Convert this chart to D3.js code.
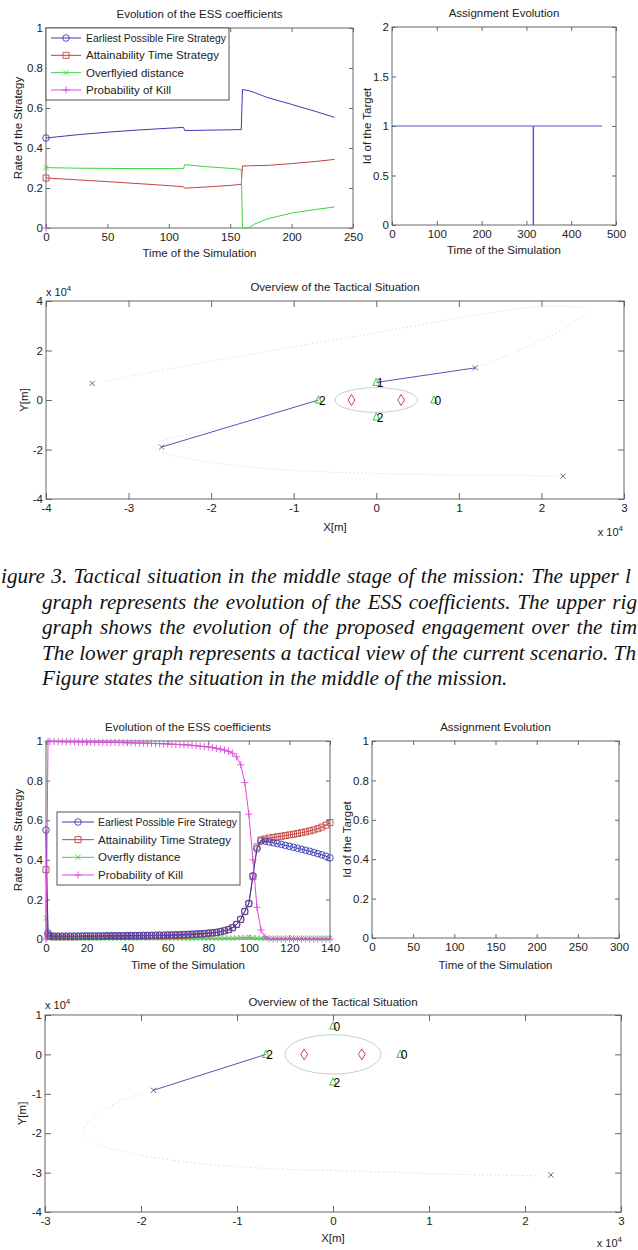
<!DOCTYPE html>
<html lang="en">
<head>
<meta charset="UTF-8">
<title>ESS coefficients and tactical situation</title>
<style>
body { margin: 0; background: #fff; }
svg { display: block; }
text { font-family: "Liberation Sans", Arial, Helvetica, sans-serif; fill: #222; font-size: 11.5px; }
.tick text { font-size: 11.5px; fill: #222; }
.tick line { stroke: #666; }
.frame { fill: none; stroke: #666; stroke-width: 1; }
.caption { font-family: "Liberation Serif", "Times New Roman", serif; font-style: italic; font-size: 21.2px; fill: #111; }
</style>
</head>
<body>
<svg id="fig" width="638" height="1250"></svg>
<script src="https://cdnjs.cloudflare.com/ajax/libs/d3/7.8.5/d3.min.js"></script>
<script>
// ---------- upper figure: ESS coefficients, middle of mission
var essTime     = [0, 25, 50, 75, 100, 112, 113, 130, 150, 159, 160, 165, 170, 180, 200, 220, 235];
var essEarliest = [0.450, 0.466, 0.479, 0.490, 0.499, 0.503, 0.487, 0.489, 0.491, 0.492, 0.692, 0.687, 0.677, 0.653, 0.618, 0.582, 0.553];
var essAttain   = [0.250, 0.241, 0.232, 0.222, 0.212, 0.206, 0.199, 0.205, 0.213, 0.218, 0.310, 0.311, 0.312, 0.313, 0.322, 0.333, 0.343];
var essOverfly  = [0.302, 0.299, 0.298, 0.297, 0.297, 0.297, 0.317, 0.307, 0.298, 0.293, 0.000, 0.000, 0.020, 0.045, 0.075, 0.093, 0.105];
var essKillTime = [0];
var essKill     = [0];
var essLegend   = ["Earliest Possible Fire Strategy", "Attainability Time Strategy", "Overflyied distance", "Probability of Kill"];
var essXTicks   = [0, 50, 100, 150, 200, 250];
var rateTicks   = [0, 0.2, 0.4, 0.6, 0.8, 1];

// assignment evolution
var assignTime   = [0, 315, 315, 316, 316, 469];
var assignTarget = [1, 1, 0, 0, 1, 1];
var assignXTicks = [0, 100, 200, 300, 400, 500];
var assignYTicks = [0, 0.5, 1, 1.5, 2];

// tactical situation, middle of mission (metres)
var midTrackA = [[-33000, 7500], [-28000, 10700], [-21400, 14800], [-15000, 18600], [-8000, 22700], [0, 27200],
  [7500, 31600], [13000, 34800], [19600, 37700], [23000, 37800], [25200, 36800], [25400, 35000], [24500, 33000],
  [22800, 29000], [19600, 23600], [15500, 17500], [12600, 13600]];
var midTrackB = [[22000, -30600], [15000, -30400], [7500, -30200], [0, -29700], [-8000, -28800], [-15000, -27200],
  [-21400, -24500], [-24500, -22500], [-26200, -20900], [-27000, -19500], [-26600, -17500], [-24500, -15200],
  [-21400, -13000], [-18500, -11300]];
var midPlanes  = [[-34400, 6700], [12000, 13000], [-26000, -19000], [22600, -30800]];
var midLinks   = [[[0, 7100], [12000, 13000]], [[-7000, 0], [-26000, -19000]]];
var midTgtX    = [0, -7000, 7000, 0];
var midTgtY    = [7100, 0, 0, -6900];
var midTgtId   = ["1", "2", "0", "2"];
var midXTicks  = [-40000, -30000, -20000, -10000, 0, 10000, 20000, 30000];
var midYTicks  = [-40000, -20000, 0, 20000, 40000];

// defended sites and zone (both tactical views)
var sites      = [[-3000, 0], [3000, 0]];
var zoneRadius = 5000;

// caption, as much of each justified line as the page shows
var captionLines = [
  "igure 3. Tactical situation in the middle stage of the mission: The upper l",
  "graph represents the evolution of the ESS coefficients. The upper rig",
  "graph shows the evolution of the proposed engagement over the tim",
  "The lower graph represents a tactical view of the current scenario. Th",
  "Figure states the situation in the middle of the mission."
];
var captionStart = [1, 42, 42, 42, 42];
var captionEnd   = [631, 637, 637, 636, null];

// ---------- lower figure
var lowTime = [0, 1, 2, 4, 6, 8, 10, 12, 14, 16, 18, 20, 22, 24, 26, 28, 30, 32, 34, 36, 38, 40, 42, 44, 46, 48,
  50, 52, 54, 56, 58, 60, 62, 64, 66, 68, 70, 72, 74, 76, 78, 80, 82, 84, 86, 88, 90, 92, 94, 96, 98, 100,
  102, 104, 106, 108, 110, 112, 114, 116, 118, 120, 122, 124, 126, 128, 130, 132, 134, 136, 138, 140];
var lowEarliest = [0.550, 0.030, 0.016, 0.015, 0.015, 0.015, 0.015, 0.015, 0.015, 0.015, 0.016, 0.016, 0.016,
  0.016, 0.016, 0.016, 0.017, 0.017, 0.017, 0.017, 0.017, 0.018, 0.018, 0.018, 0.018, 0.019, 0.019, 0.019,
  0.020, 0.020, 0.020, 0.021, 0.021, 0.022, 0.022, 0.023, 0.024, 0.025, 0.026, 0.027, 0.028, 0.030, 0.032,
  0.034, 0.038, 0.042, 0.048, 0.058, 0.074, 0.100, 0.140, 0.180, 0.320, 0.455, 0.495, 0.494, 0.490, 0.486,
  0.482, 0.478, 0.473, 0.468, 0.463, 0.458, 0.453, 0.448, 0.443, 0.437, 0.431, 0.425, 0.418, 0.410];
var lowAttain = [0.350, 0.020, 0.012, 0.011, 0.011, 0.011, 0.011, 0.011, 0.011, 0.012, 0.012, 0.012, 0.012,
  0.012, 0.012, 0.013, 0.013, 0.013, 0.013, 0.013, 0.014, 0.014, 0.014, 0.014, 0.015, 0.015, 0.015, 0.016,
  0.016, 0.016, 0.017, 0.017, 0.018, 0.018, 0.019, 0.020, 0.021, 0.022, 0.023, 0.024, 0.026, 0.028, 0.030,
  0.032, 0.036, 0.041, 0.047, 0.057, 0.073, 0.098, 0.138, 0.178, 0.315, 0.465, 0.500, 0.505, 0.510, 0.513,
  0.516, 0.519, 0.522, 0.526, 0.529, 0.533, 0.537, 0.541, 0.546, 0.551, 0.557, 0.565, 0.575, 0.588];
var lowOverfly = [0.105, 0.006, 0.005, 0.005, 0.005, 0.005, 0.005, 0.005, 0.005, 0.005, 0.005, 0.005, 0.005,
  0.005, 0.005, 0.005, 0.005, 0.005, 0.005, 0.005, 0.005, 0.005, 0.005, 0.005, 0.005, 0.005, 0.005, 0.005,
  0.005, 0.005, 0.005, 0.005, 0.005, 0.005, 0.005, 0.005, 0.005, 0.005, 0.005, 0.005, 0.005, 0.005, 0.005,
  0.005, 0.005, 0.005, 0.005, 0.005, 0.006, 0.007, 0.008, 0.008, 0.007, 0.005, 0.004, 0.003, 0.003, 0.003,
  0.003, 0.003, 0.003, 0.003, 0.003, 0.003, 0.003, 0.003, 0.003, 0.003, 0.003, 0.003, 0.003, 0.003];
var lowKill = [0.000, 0.998, 0.997, 0.997, 0.997, 0.996, 0.996, 0.996, 0.996, 0.995, 0.995, 0.995, 0.995,
  0.994, 0.994, 0.994, 0.993, 0.993, 0.993, 0.992, 0.992, 0.991, 0.991, 0.990, 0.990, 0.989, 0.989, 0.988,
  0.987, 0.987, 0.986, 0.985, 0.984, 0.983, 0.982, 0.981, 0.980, 0.978, 0.976, 0.974, 0.972, 0.970, 0.967,
  0.963, 0.959, 0.954, 0.948, 0.938, 0.920, 0.880, 0.790, 0.630, 0.400, 0.160, 0.045, 0.010, 0.002, 0.000,
  0.000, 0.000, 0.000, 0.000, 0.000, 0.000, 0.000, 0.000, 0.000, 0.000, 0.000, 0.000, 0.000, 0.000];
var lowLegend  = ["Earliest Possible Fire Strategy", "Attainability Time Strategy", "Overfly distance", "Probability of Kill"];
var lowXTicks  = [0, 20, 40, 60, 80, 100, 120, 140];
var emptyXTicks = [0, 50, 100, 150, 200, 250, 300];

// tactical situation, lower figure (metres)
var lowTrack  = [[21500, -30800], [12100, -30400], [3600, -29700], [-7100, -28900], [-15600, -27200],
  [-21900, -24600], [-25100, -22100], [-26000, -19500], [-24900, -15700], [-21900, -11500], [-19500, -9700]];
var lowPlanes = [[-18700, -9100], [22700, -30600]];
var lowLinks  = [[[-7000, 0], [-18700, -9100]]];
var lowTgtX   = [0, -7000, 7000, 0];
var lowTgtY   = [7200, 0, 0, -7000];
var lowTgtId  = ["0", "2", "0", "2"];
var lowTacXTicks = [-30000, -20000, -10000, 0, 10000, 20000, 30000];
var lowTacYTicks = [-40000, -30000, -20000, -10000, 0, 10000];

var COL = { blue: "#3b3bb2", red: "#bf4343", green: "#3fd43f", magenta: "#d94ed9" };
var MARK = {
  circle: "M3.3,0A3.3,3.3 0 1,1 -3.3,0A3.3,3.3 0 1,1 3.3,0Z",
  square: "M-3,-3H3V3H-3Z",
  cross: "M-2.6,-2.6L2.6,2.6M-2.6,2.6L2.6,-2.6",
  plus: "M-3.6,0H3.6M0,-3.6V3.6",
  tri: "M0,-4.2L3.3,3L-3.3,3Z",
  diamond: "M0,-5.5L3.4,0L0,5.5L-3.4,0Z"
};

var svg = d3.select("#fig");

function tidy(g) {
  g.select(".domain").remove();
}

function panel(o) {
  var g = svg.append("g");
  var x = d3.scaleLinear().domain(o.xDomain).range([o.left, o.right]);
  var y = d3.scaleLinear().domain(o.yDomain).range([o.bottom, o.top]);
  var fmt = o.format || function(d) { return String(d); };
  var tl = o.tick;

  g.append("g").attr("transform", "translate(0," + o.bottom + ")")
    .call(d3.axisBottom(x).tickValues(o.xTicks).tickSize(-tl).tickSizeOuter(0).tickPadding(5).tickFormat(fmt)).call(tidy);
  g.append("g").attr("transform", "translate(0," + o.top + ")")
    .call(d3.axisTop(x).tickValues(o.xTicks).tickSize(-tl).tickSizeOuter(0).tickFormat("")).call(tidy);
  g.append("g").attr("transform", "translate(" + o.left + ",0)")
    .call(d3.axisLeft(y).tickValues(o.yTicks).tickSize(-tl).tickSizeOuter(0).tickPadding(3).tickFormat(fmt)).call(tidy);
  g.append("g").attr("transform", "translate(" + o.right + ",0)")
    .call(d3.axisRight(y).tickValues(o.yTicks).tickSize(-tl).tickSizeOuter(0).tickFormat("")).call(tidy);

  g.append("rect").attr("class", "frame")
    .attr("x", o.left).attr("y", o.top).attr("width", o.right - o.left).attr("height", o.bottom - o.top);

  g.append("text").attr("x", (o.left + o.right) / 2).attr("y", o.titleY)
    .attr("text-anchor", "middle").text(o.title);
  g.append("text").attr("x", (o.left + o.right) / 2).attr("y", o.xLabelY)
    .attr("text-anchor", "middle").text(o.xLabel);
  g.append("text").attr("transform", "translate(" + o.yLabelX + "," + (o.top + o.bottom) / 2 + ") rotate(-90)")
    .attr("dy", "0.35em").attr("text-anchor", "middle").text(o.yLabel);

  return { g: g, x: x, y: y, o: o };
}

function series(p, xs, ys, color, mark, allMarks) {
  var pts = xs.map(function(t, i) { return [t, ys[i]]; });
  if (pts.length > 1) {
    p.g.append("path").datum(pts)
      .attr("d", d3.line().x(function(d) { return p.x(d[0]); }).y(function(d) { return p.y(d[1]); }))
      .attr("fill", "none").attr("stroke", color).attr("stroke-width", 1);
  }
  p.g.selectAll(null).data(allMarks ? pts : pts.slice(0, 1)).enter().append("path")
    .attr("d", MARK[mark])
    .attr("transform", function(d) { return "translate(" + p.x(d[0]) + "," + p.y(d[1]) + ")"; })
    .attr("fill", "none").attr("stroke", color).attr("stroke-width", 0.9);
}

function legend(bx, by, bw, bh, labels, lineX0, lineX1, textX) {
  var specs = [[COL.blue, "circle"], [COL.red, "square"], [COL.green, "cross"], [COL.magenta, "plus"]];
  var lg = svg.append("g");
  lg.append("rect").attr("x", bx).attr("y", by).attr("width", bw).attr("height", bh)
    .attr("fill", "#fff").attr("stroke", "#555");
  var step = (bh - 20) / 3;
  var room = bx + bw - textX - 3;
  labels.forEach(function(lab, i) {
    var yy = by + 10 + i * step;
    lg.append("line").attr("x1", lineX0).attr("x2", lineX1).attr("y1", yy).attr("y2", yy)
      .attr("stroke", specs[i][0]).attr("stroke-width", 1);
    lg.append("path").attr("d", MARK[specs[i][1]])
      .attr("transform", "translate(" + (lineX0 + lineX1) / 2 + "," + yy + ")")
      .attr("fill", "none").attr("stroke", specs[i][0]).attr("stroke-width", 0.9);
    var t = lg.append("text").attr("x", textX).attr("y", yy).attr("dy", "0.35em").text(lab);
    if (t.node().getComputedTextLength() > room) {
      t.attr("textLength", room).attr("lengthAdjust", "spacingAndGlyphs");
    }
  });
}

function powerLabel(x, y, anchorEnd) {
  var t = svg.append("text").attr("x", x).attr("y", y);
  if (anchorEnd) t.attr("text-anchor", "end");
  t.append("tspan").style("font-size", "11px").text("x 10");
  t.append("tspan").attr("dy", -5).style("font-size", "8px").text("4");
}

function tactical(p, tracks, planes, links, tx, ty, tid) {
  var smooth = d3.line().curve(d3.curveCatmullRom)
    .x(function(d) { return p.x(d[0]); }).y(function(d) { return p.y(d[1]); });
  var straight = d3.line().x(function(d) { return p.x(d[0]); }).y(function(d) { return p.y(d[1]); });
  tracks.forEach(function(tr) {
    p.g.append("path").datum(tr).attr("d", smooth).attr("fill", "none")
      .attr("stroke", "#cfcfcf").attr("stroke-width", 1).attr("stroke-dasharray", "1,3");
  });
  p.g.append("ellipse").attr("cx", p.x(0)).attr("cy", p.y(0))
    .attr("rx", p.x(zoneRadius) - p.x(0)).attr("ry", p.y(0) - p.y(zoneRadius))
    .attr("fill", "none").attr("stroke", "#cccccc").attr("stroke-width", 1);
  links.forEach(function(l) {
    p.g.append("path").datum(l).attr("d", straight)
      .attr("stroke", "#5555b8").attr("stroke-width", 1).attr("fill", "none");
  });
  p.g.selectAll(null).data(planes).enter().append("path").attr("d", MARK.cross)
    .attr("transform", function(d) { return "translate(" + p.x(d[0]) + "," + p.y(d[1]) + ")"; })
    .attr("fill", "none").attr("stroke", "#444").attr("stroke-width", 0.8);
  p.g.selectAll(null).data(sites).enter().append("path").attr("d", MARK.diamond)
    .attr("transform", function(d) { return "translate(" + p.x(d[0]) + "," + p.y(d[1]) + ")"; })
    .attr("fill", "none").attr("stroke", "#c84646").attr("stroke-width", 1);
  tx.forEach(function(xv, i) {
    p.g.append("path").attr("d", MARK.tri)
      .attr("transform", "translate(" + p.x(xv) + "," + p.y(ty[i]) + ")")
      .attr("fill", "none").attr("stroke", "#3fc43f").attr("stroke-width", 1);
    p.g.append("text").attr("x", p.x(xv) + 0.5).attr("y", p.y(ty[i])).attr("dy", "0.38em")
      .style("font-size", "12px").style("fill", "#000").text(tid[i]);
  });
}

var tenK = function(d) { return String(d / 10000); };

// ---------- upper figure
var p1 = panel({ left: 46, right: 353, top: 28, bottom: 228, xDomain: [0, 250], yDomain: [0, 1],
  xTicks: essXTicks, yTicks: rateTicks, tick: 4, title: "Evolution of the ESS coefficients", titleY: 18,
  xLabel: "Time of the Simulation", xLabelY: 257, yLabel: "Rate of the Strategy", yLabelX: 18 });
series(p1, essTime, essEarliest, COL.blue, "circle", false);
series(p1, essTime, essAttain, COL.red, "square", false);
series(p1, essTime, essOverfly, COL.green, "cross", false);
series(p1, essKillTime, essKill, COL.magenta, "plus", false);
legend(46, 28, 183, 72, essLegend, 51, 81, 86);

var p2 = panel({ left: 392, right: 616, top: 27, bottom: 225, xDomain: [0, 500], yDomain: [0, 2],
  xTicks: assignXTicks, yTicks: assignYTicks, tick: 4, title: "Assignment Evolution", titleY: 17,
  xLabel: "Time of the Simulation", xLabelY: 254, yLabel: "Id of the Target", yLabelX: 367 });
p2.g.append("path").datum(assignTime.map(function(t, i) { return [t, assignTarget[i]]; }))
  .attr("d", d3.line().x(function(d) { return p2.x(d[0]); }).y(function(d) { return p2.y(d[1]); }))
  .attr("fill", "none").attr("stroke", "#5252cc").attr("stroke-width", 1);

var p3 = panel({ left: 46, right: 624, top: 301, bottom: 499, xDomain: [-40000, 30000], yDomain: [-40000, 40000],
  xTicks: midXTicks, yTicks: midYTicks, tick: 6, format: tenK, title: "Overview of the Tactical Situation", titleY: 291,
  xLabel: "X[m]", xLabelY: 531, yLabel: "Y[m]", yLabelX: 24 });
tactical(p3, [midTrackA, midTrackB], midPlanes, midLinks, midTgtX, midTgtY, midTgtId);
powerLabel(46, 296, false);
powerLabel(623, 536, true);

// caption: justified lines, spread through the word spacing
captionLines.forEach(function(s, i) {
  var t = svg.append("text").attr("class", "caption").attr("x", captionStart[i]).attr("y", 583 + i * 25.5).text(s);
  if (captionEnd[i] !== null) {
    var gaps = s.split(" ").length - 1;
    var extra = captionEnd[i] - captionStart[i] - t.node().getComputedTextLength();
    if (gaps > 0 && extra > 0) t.style("word-spacing", (extra / gaps) + "px");
  }
});

// ---------- lower figure
var p4 = panel({ left: 46, right: 330, top: 741, bottom: 939, xDomain: [0, 140], yDomain: [0, 1],
  xTicks: lowXTicks, yTicks: rateTicks, tick: 4, title: "Evolution of the ESS coefficients", titleY: 731,
  xLabel: "Time of the Simulation", xLabelY: 969, yLabel: "Rate of the Strategy", yLabelX: 18 });
series(p4, lowTime, lowOverfly, COL.green, "cross", true);
series(p4, lowTime, lowAttain, COL.red, "square", true);
series(p4, lowTime, lowEarliest, COL.blue, "circle", true);
series(p4, lowTime, lowKill, COL.magenta, "plus", true);
legend(57, 812, 183, 73, lowLegend, 62, 94, 98);

var p5 = panel({ left: 372, right: 619, top: 741, bottom: 938, xDomain: [0, 300], yDomain: [0, 1],
  xTicks: emptyXTicks, yTicks: rateTicks, tick: 4, title: "Assignment Evolution", titleY: 731,
  xLabel: "Time of the Simulation", xLabelY: 969, yLabel: "Id of the Target", yLabelX: 347 });

var p6 = panel({ left: 45, right: 621, top: 1015, bottom: 1212, xDomain: [-30000, 30000], yDomain: [-40000, 10000],
  xTicks: lowTacXTicks, yTicks: lowTacYTicks, tick: 6, format: tenK, title: "Overview of the Tactical Situation", titleY: 1006,
  xLabel: "X[m]", xLabelY: 1242, yLabel: "Y[m]", yLabelX: 22 });
tactical(p6, [lowTrack], lowPlanes, lowLinks, lowTgtX, lowTgtY, lowTgtId);
powerLabel(45, 1009, false);
powerLabel(622, 1247, true);
</script>
</body>
</html>
